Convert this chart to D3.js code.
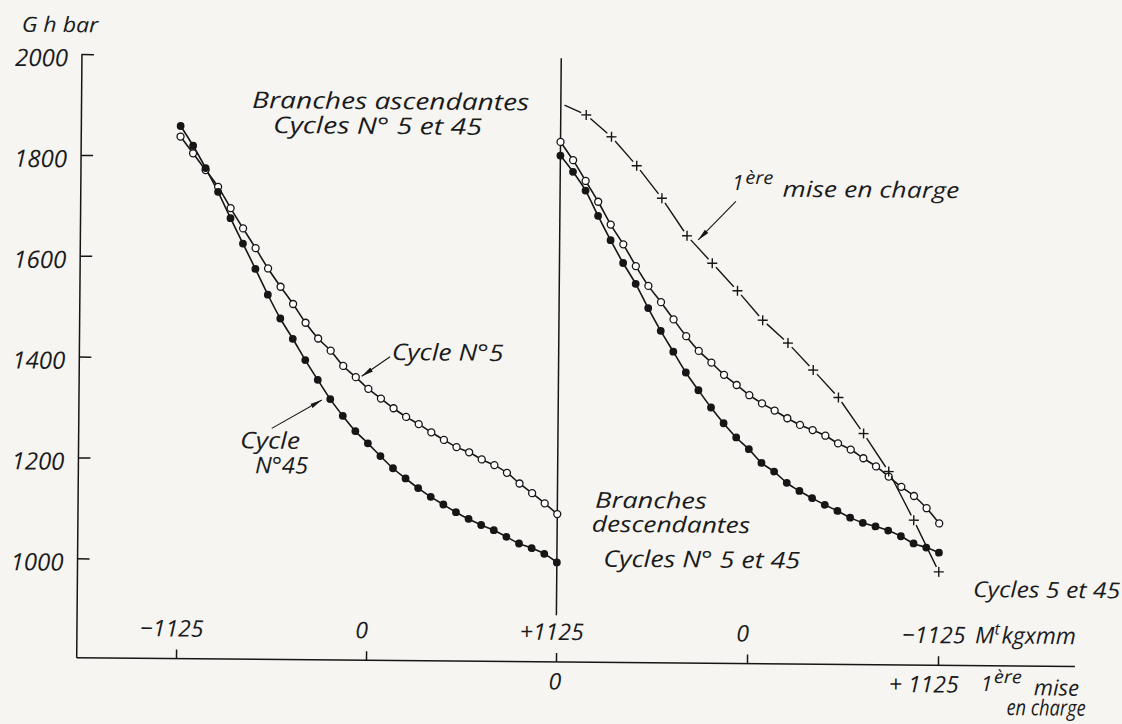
<!DOCTYPE html>
<html>
<head>
<meta charset="utf-8">
<script src="https://cdn.jsdelivr.net/npm/d3@7"></script>
<style>
  html, body { margin: 0; padding: 0; background: #f6f5f2; }
  svg { display: block; }
  text { font-family: "Open Sans", "DejaVu Sans", sans-serif; font-style: italic; fill: #1b1b1b; }
</style>
</head>
<body>
<script>
// Torque steps (M^t, kg x mm) for the ascending and descending branches
const torqueSteps = [-1125, -1050, -975, -900, -825, -750, -675, -600, -525, -450, -375,
  -300, -225, -150, -75, 0, 75, 150, 225, 300, 375, 450, 525, 600, 675, 750, 825, 900,
  975, 1050, 1125];

// Ascending branches (left half): G (h bar) versus torque going from -1125 to +1125
const ascCycle5 = [1838, 1805, 1772, 1739, 1697, 1657, 1618, 1578, 1542, 1508, 1471,
  1440, 1416, 1386, 1364, 1341, 1322, 1303, 1286, 1272, 1256, 1241, 1227, 1217, 1203,
  1192, 1177, 1156, 1137, 1117, 1096];
const ascCycle45 = [1859, 1820, 1776, 1729, 1677, 1627, 1577, 1526, 1479, 1439, 1397,
  1358, 1320, 1287, 1257, 1233, 1208, 1184, 1164, 1145, 1128, 1113, 1098, 1085, 1073,
  1063, 1050, 1037, 1028, 1017, 1000];

// Descending branches (right half): torque going from +1125 back to -1125
const descTorque = [1125, 1050, 975, 900, 825, 750, 675, 600, 525, 450, 375, 300, 225,
  150, 75, 0, -75, -150, -225, -300, -375, -450, -525, -600, -675, -750, -825, -900,
  -975, -1050, -1125];
const descCycle5 = [1834, 1798, 1757, 1716, 1671, 1632, 1589, 1550, 1518, 1484, 1451,
  1422, 1399, 1375, 1355, 1335, 1319, 1305, 1290, 1277, 1267, 1256, 1241, 1229, 1212,
  1196, 1176, 1156, 1138, 1114, 1084];
const descCycle45 = [1807, 1775, 1738, 1688, 1640, 1595, 1554, 1506, 1461, 1420, 1379,
  1344, 1310, 1279, 1251, 1228, 1201, 1184, 1162, 1146, 1132, 1119, 1107, 1094, 1084,
  1077, 1069, 1058, 1044, 1036, 1026];

// First loading: torque from 0 to +1125
const firstTorque = [0, 75, 150, 225, 300, 375, 450, 525, 600, 675, 750, 825, 900, 975,
  1050, 1125];
const firstLoading = [1910, 1888, 1845, 1788, 1724, 1650, 1596, 1542, 1484, 1439, 1386,
  1332, 1261, 1186, 1090, 988];

// Axis ticks
const gTicks = [1000, 1200, 1400, 1600, 1800, 2000];
const ascTicks = [-1125, 0, 1125];
const descTicks = [0, -1125];

const W = 1122, H = 724;
const INK = "#161616";
const PAPER = "#f6f5f2";

const svg = d3.select("body").append("svg").attr("width", W).attr("height", H);
svg.append("rect").attr("width", W).attr("height", H).attr("fill", PAPER);

// whole plate sits very slightly turned
const originX = 76.7, originY = 657.7;
const g = svg.append("g").attr("transform", `rotate(0.5,${originX},${originY})`);

const y = d3.scaleLinear().domain([1000, 2000]).range([558.3, 54]);
const xAsc = d3.scaleLinear().domain([-1125, 1125]).range([176, 556]);
const xDesc = d3.scaleLinear().domain([1125, -1125]).range([556, 938]);
const xFirst = d3.scaleLinear().domain([0, 1125]).range([556, 938]);

const defs = svg.append("defs");
defs.append("marker").attr("id", "arrow")
  .attr("markerUnits", "userSpaceOnUse")
  .attr("viewBox", "0 0 12 6").attr("markerWidth", 12).attr("markerHeight", 6)
  .attr("refX", 12).attr("refY", 3).attr("orient", "auto")
  .append("path").attr("d", "M0,0.6 L12,3 L0,5.4 Z").attr("fill", INK);

// ---- axes ----
const axisStroke = sel => sel.attr("stroke", INK).attr("stroke-width", 1.5).attr("fill", "none");

g.append("line").attr("x1", originX).attr("y1", y(2000)).attr("x2", originX).attr("y2", originY).call(axisStroke);
g.append("line").attr("x1", xAsc(1125)).attr("y1", y(2000)).attr("x2", xAsc(1125)).attr("y2", 611).call(axisStroke);
g.append("line").attr("x1", originX).attr("y1", originY).attr("x2", 1075).attr("y2", originY).call(axisStroke);

const yAxis = d3.axisLeft(y).tickValues(gTicks).tickSizeInner(-12).tickSizeOuter(0)
  .tickPadding(14).tickFormat(d3.format("d"));
const yAxisG = g.append("g").attr("transform", `translate(${originX},0)`).call(yAxis);
yAxisG.select(".domain").remove();
yAxisG.selectAll(".tick line").attr("stroke", INK).attr("stroke-width", 1.5);
yAxisG.selectAll(".tick text").attr("font-size", 24).attr("dy", "0.5em")
  .attr("fill", INK).attr("font-family", null);

const signed = d => d > 0 ? "+" + d : d < 0 ? "\u2212" + (-d) : "0";

function topAxis(scale, ticks) {
  const ax = d3.axisTop(scale).tickValues(ticks).tickSizeInner(9).tickSizeOuter(0)
    .tickPadding(13).tickFormat(signed);
  const a = g.append("g").attr("transform", `translate(0,${originY})`).call(ax);
  a.select(".domain").remove();
  a.selectAll(".tick line").attr("stroke", INK).attr("stroke-width", 1.5);
  a.selectAll(".tick text").attr("font-size", 23).attr("dx", -5).attr("dy", 0)
    .attr("fill", INK).attr("font-family", null);
  return a;
}
topAxis(xAsc, ascTicks);
topAxis(xDesc, descTicks);

// first-loading scale labels under the axis
g.append("text").attr("x", xFirst(0) - 1).attr("y", 685.5).attr("text-anchor", "middle")
  .attr("font-size", 23).text("0");
g.append("text").attr("x", xFirst(1125) - 14).attr("y", 685).attr("text-anchor", "middle")
  .attr("font-size", 23).text("+ 1125");

// ---- curves ----
const lineAsc = d3.line().x(d => xAsc(d[0])).y(d => y(d[1])).curve(d3.curveCatmullRom.alpha(0.5));
const lineDesc = d3.line().x(d => xDesc(d[0])).y(d => y(d[1])).curve(d3.curveCatmullRom.alpha(0.5));

const series = [
  { pts: d3.zip(torqueSteps, ascCycle5), line: lineAsc, x: xAsc, open: true },
  { pts: d3.zip(descTorque, descCycle5), line: lineDesc, x: xDesc, open: true },
  { pts: d3.zip(torqueSteps, ascCycle45), line: lineAsc, x: xAsc, open: false },
  { pts: d3.zip(descTorque, descCycle45), line: lineDesc, x: xDesc, open: false }
];

series.forEach(s => {
  g.append("path").attr("d", s.line(s.pts)).attr("fill", "none")
    .attr("stroke", INK).attr("stroke-width", 1.6);
});
series.filter(s => s.open).forEach(s => {
  g.append("g").selectAll("circle").data(s.pts).join("circle")
    .attr("cx", d => s.x(d[0])).attr("cy", d => y(d[1])).attr("r", 3.5)
    .attr("fill", "#ffffff").attr("stroke", INK).attr("stroke-width", 1.3);
});
series.filter(s => !s.open).forEach(s => {
  g.append("g").selectAll("circle").data(s.pts).join("circle")
    .attr("cx", d => s.x(d[0])).attr("cy", d => y(d[1])).attr("r", 3.9)
    .attr("fill", INK);
});

// first loading: broken line interrupted at every cross
const fl = d3.zip(firstTorque, firstLoading).map(d => [xFirst(d[0]), y(d[1])]);
const segs = [];
for (let i = 0; i < fl.length - 1; i++) {
  const [x0, y0] = fl[i], [x1, y1] = fl[i + 1];
  const len = Math.hypot(x1 - x0, y1 - y0), ux = (x1 - x0) / len, uy = (y1 - y0) / len;
  const g0 = i === 0 ? 4 : 5.5, g1 = 5.5;
  segs.push(`M${x0 + ux * g0},${y0 + uy * g0}L${x1 - ux * g1},${y1 - uy * g1}`);
}
g.append("path").attr("d", segs.join("")).attr("fill", "none")
  .attr("stroke", INK).attr("stroke-width", 1.4);
g.append("g").selectAll("path").data(fl.slice(1)).join("path")
  .attr("d", d => `M${d[0] - 5},${d[1]}H${d[0] + 5}M${d[0]},${d[1] - 5}V${d[1] + 5}`)
  .attr("stroke", INK).attr("stroke-width", 1.4).attr("fill", "none");

// ---- annotations ----
function arrow(xs, from, to) {
  g.append("line")
    .attr("x1", xs(from[0])).attr("y1", y(from[1]))
    .attr("x2", xs(to[0])).attr("y2", y(to[1]))
    .attr("stroke", INK).attr("stroke-width", 1.1).attr("marker-end", "url(#arrow)");
}
arrow(xAsc, [127, 1405], [-40, 1366]);
arrow(xAsc, [-570, 1261], [-275, 1318]);
arrow(xFirst, [518, 1719], [408, 1642]);

function label(x, yy, str, size, len) {
  const t = g.append("text").attr("x", x).attr("y", yy).attr("font-size", size).text(str);
  if (len) t.attr("textLength", len).attr("lengthAdjust", "spacingAndGlyphs");
  return t;
}

label(16.2, 32.2, "G h bar", 21, 76.6);
label(247.3, 106.5, "Branches ascendantes", 23, 277);
label(268.4, 131.3, "Cycles N° 5 et 45", 23, 209);
label(389.1, 357.3, "Cycle N°5", 23, 111.6);
label(238.2, 446.9, "Cycle", 23, 60);
label(253.4, 471.7, "N°45", 23, 53);
label(593.7, 503.2, "Branches", 22, 111.7);
label(590.6, 527.2, "descendantes", 22, 158.3);
label(602.5, 562.1, "Cycles N° 5 et 45", 23, 196.7);
label(972.5, 589.2, "Cycles 5 et 45", 22, 147);

// first-loading caption near the curve
label(728, 184.3, "1", 21);
label(741, 178, "ère", 18, 28);
label(778.5, 190.5, "mise  en charge", 22, 176.6);

// unit label after the right-hand tick
const unit = g.append("text").attr("x", 974.9).attr("y", 635.5).attr("font-size", 23);
unit.append("tspan").text("M");
unit.append("tspan").attr("font-size", 16).attr("dy", -9).text("t");
unit.append("tspan").attr("dy", 9).attr("dx", 2).text("kgxmm");

// first-loading caption under the axis
label(981, 683, "1", 21);
label(994, 675, "ère", 18, 28);
label(1034, 687, "mise", 22);
label(1007, 707, "en charge", 22, 79);
</script>
</body>
</html>
